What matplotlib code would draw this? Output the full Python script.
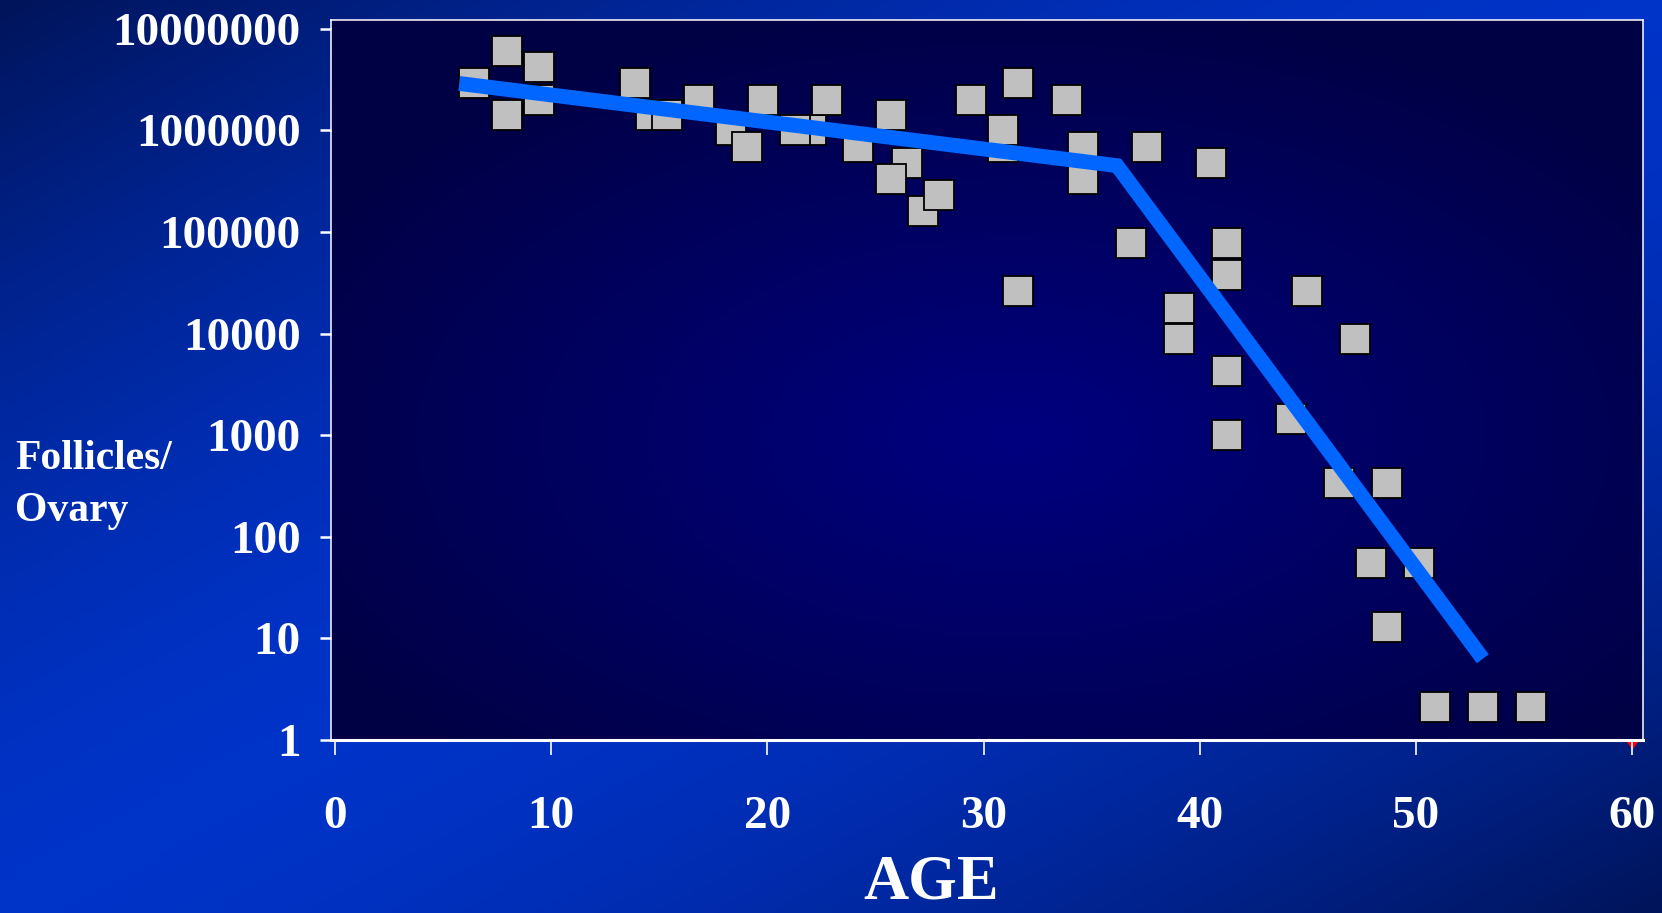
import numpy as np
import matplotlib.pyplot as plt
from matplotlib.colors import LinearSegmentedColormap

# follicle counts per ovary vs age
AGES = [6.43, 7.94, 7.94, 9.44, 9.44, 13.86, 14.62, 15.34, 16.83, 18.3,
        19.04, 19.78, 22.0, 21.28, 22.74, 24.2, 26.44, 25.7, 25.7, 27.18,
        27.94, 29.4, 30.88, 30.88, 31.6, 33.85, 34.58, 34.58, 37.55, 40.5,
        36.8, 31.6, 41.24, 41.24, 39.04, 39.04, 44.94, 47.16, 41.24, 44.2,
        41.24, 46.43, 48.65, 47.9, 50.12, 48.65, 50.87, 53.09, 55.3]
FOLLICLES = [2.9e6, 6.0e6, 1.42e6, 4.2e6, 2.0e6, 2.9e6, 1.42e6, 1.42e6, 2.0e6, 1.0e6,
             6.9e5, 2.0e6, 1.0e6, 1.0e6, 2.0e6, 6.9e5, 4.8e5, 1.42e6, 3.3e5, 1.62e5,
             2.3e5, 2.0e6, 6.9e5, 1.0e6, 2.9e6, 2.0e6, 6.9e5, 3.3e5, 6.9e5, 4.8e5,
             7.8e4, 2.6e4, 7.8e4, 3.8e4, 1.8e4, 8.9e3, 2.6e4, 8.9e3, 4.3e3, 1.44e3,
             1000, 339, 339, 55, 55, 13, 2.1, 2.1, 2.1]

# two-phase fit line
FIT_AGES = [5.74, 36.17, 53.09]
FIT_VALUES = [2.9e6, 4.5e5, 6.3]

# small red mark at the end of the x axis
RED_AGE = [60]
RED_VAL = [1]

X_TICKS = [0, 10, 20, 30, 40, 50, 60]
Y_TICKS = [1, 10, 100, 1000, 10000, 100000, 1000000, 10000000]
Y_LABELS = ['1', '10', '100', '1000', '10000', '100000', '1000000', '10000000']

FONT = 'Liberation Serif'


def main():
    W, H = 1662, 913
    fig = plt.figure(figsize=(W / 100, H / 100), dpi=100)

    # outer background gradient
    bg = fig.add_axes([0, 0, 1, 1])
    gx, gy = np.meshgrid(np.linspace(0, 1, 400), np.linspace(0, 1, 220))
    d = np.abs(gx + gy - 1.0)
    t = np.clip(1 - d ** 1.6, 0, 1)
    outer = LinearSegmentedColormap.from_list('o', ['#00145a', '#0033c8'])
    bg.imshow(t, cmap=outer, aspect='auto', extent=[0, 1, 0, 1], origin='upper')
    bg.set_axis_off()

    rect = [331 / W, (H - 740) / H, (1643 - 331) / W, (740 - 20) / H]

    # inner radial gradient
    gr = fig.add_axes(rect)
    rx, ry = np.meshgrid(np.linspace(0, 1, 400), np.linspace(0, 1, 220))
    r = np.sqrt(((rx - 0.52) / 0.62) ** 2 + ((ry - 0.58) / 0.62) ** 2)
    inner = LinearSegmentedColormap.from_list('i', ['#000080', '#000044'])
    gr.imshow(np.clip(r, 0, 1), cmap=inner, aspect='auto', extent=[0, 1, 0, 1], origin='upper')
    gr.set_axis_off()

    ax = fig.add_axes(rect)
    ax.set_facecolor('none')
    ax.set_yscale('log')

    ax.plot(AGES, FOLLICLES, linestyle='none', marker='s', ms=22.3,
            mfc='#c0c0c0', mec='black', mew=1.3, zorder=3)
    ax.plot(FIT_AGES, FIT_VALUES, color='#0066ff', lw=10.7,
            solid_capstyle='butt', solid_joinstyle='miter', zorder=4)
    ax.plot(RED_AGE, RED_VAL, linestyle='none', marker=11, ms=8,
            color='red', clip_on=False, zorder=1)

    ax.set_xlim(-0.19, 60.5)
    ax.set_ylim(1, 10 ** 7.087)

    ax.set_xticks(X_TICKS)
    ax.set_xticklabels([str(v) for v in X_TICKS])
    ax.set_yticks(Y_TICKS)
    ax.set_yticklabels(Y_LABELS)
    ax.yaxis.set_minor_locator(plt.NullLocator())

    for lab in ax.get_xticklabels() + ax.get_yticklabels():
        lab.set_fontfamily(FONT)
        lab.set_fontweight('bold')
        lab.set_fontsize(34)
        lab.set_color('white')
    ax.tick_params(axis='x', direction='out', length=11, width=1.2,
                   color='white', pad=29)
    ax.tick_params(axis='y', direction='out', length=8, width=1.8,
                   color='white', pad=14)

    for side in ['top', 'left', 'right']:
        ax.spines[side].set_color('white')
        ax.spines[side].set_linewidth(1.1)
    ax.spines['bottom'].set_color('white')
    ax.spines['bottom'].set_linewidth(2.2)

    fig.text(15 / W, (H - 485) / H, 'Follicles/\nOvary', family=FONT,
             weight='bold', fontsize=30, color='white', ha='left', va='center',
             linespacing=1.45)
    fig.text(931 / W, 0.001, 'AGE', family=FONT, weight='bold',
             fontsize=45, color='white', ha='center', va='bottom')

    fig.savefig('out.png', dpi=100)


if __name__ == '__main__':
    main()
